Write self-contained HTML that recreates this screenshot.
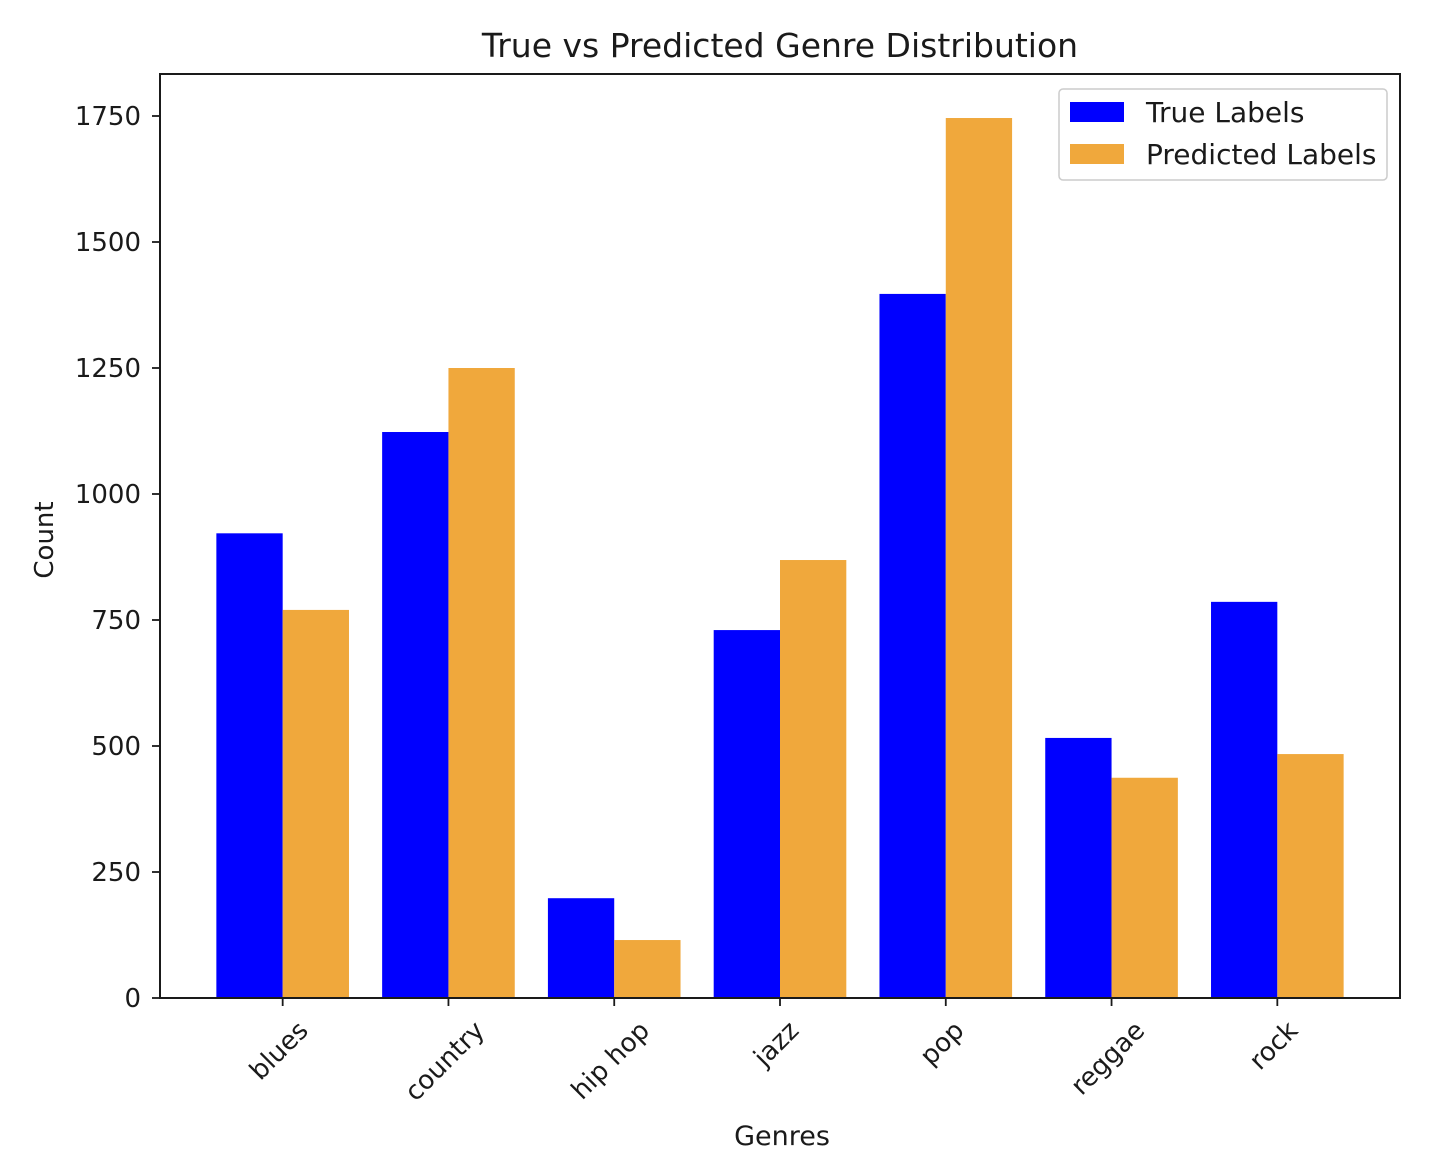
<!DOCTYPE html>
<html><head><meta charset="utf-8"><style>
body{margin:0;background:#fff}
svg{display:block;font-family:"DejaVu Sans","Liberation Sans",sans-serif}
</style></head><body>
<svg id="chart" width="1450" height="1164" viewBox="0 0 1450 1164">
<rect width="1450" height="1164" fill="#fff"/>
<text x="780" y="57" font-size="33" text-anchor="middle" fill="#1a1a1a">True vs Predicted Genre Distribution</text>
<g id="bars"></g>
<g id="yticks"></g>
<g id="xticks"></g>
<rect x="160" y="74" width="1240" height="924" fill="none" stroke="#1a1a1a" stroke-width="2"/>
<text transform="translate(53,540) rotate(-90)" font-size="26" text-anchor="middle" fill="#1a1a1a">Count</text>
<text x="782" y="1145" font-size="27" text-anchor="middle" fill="#1a1a1a">Genres</text>
<g>
<rect x="1059" y="89" width="328" height="91" rx="4" fill="#fff" stroke="#ccc" stroke-width="1.5"/>
<rect x="1070" y="102" width="54" height="20" fill="#0000ff"/>
<text x="1146" y="122" font-size="28" fill="#1a1a1a">True Labels</text>
<rect x="1070" y="144" width="54" height="20" fill="#f0a83c"/>
<text x="1146" y="164" font-size="28" fill="#1a1a1a">Predicted Labels</text>
</g>
</svg>
<script>
const categories=["blues","country","hip hop","jazz","pop","reggae","rock"];
const trueValues=[922,1123,198,730,1397,516,786];
const predValues=[770,1250,115,869,1746,437,484];
const yTicks=[0,250,500,750,1000,1250,1500,1750];
const NS="http://www.w3.org/2000/svg";
const L=160,R=1400,T=74,B=998;
const xmin=-0.74,xmax=6.74;
const ypx=(B-116)/1750;
const xs=v=>L+(v-xmin)/(xmax-xmin)*(R-L);
const ys=v=>B-v*ypx;
const bars=document.getElementById('bars');
const yt=document.getElementById('yticks');
const xt=document.getElementById('xticks');
function mk(tag,attrs,parent){const e=document.createElementNS(NS,tag);for(const k in attrs)e.setAttribute(k,attrs[k]);parent.appendChild(e);return e;}
categories.forEach((c,i)=>{
  const b1=mk('rect',{x:xs(i-0.4),y:ys(trueValues[i]),width:xs(0.4)-xs(0),height:B-ys(trueValues[i]),fill:'#0000ff'},bars);
  
  
  const b2=mk('rect',{x:xs(i),y:ys(predValues[i]),width:xs(0.4)-xs(0),height:B-ys(predValues[i]),fill:'#f0a83c'},bars);
  
  
  const tk=mk('line',{x1:xs(i),x2:xs(i),y1:B,y2:B+8,stroke:'#1a1a1a','stroke-width':1.8},xt);
  
  
  const t=mk('text',{'font-size':26,'text-anchor':'middle',fill:'#1a1a1a'},xt);
  t.textContent=c;
  
  
  const w=t.getComputedTextLength();
  const h=19;
  const cy=1020+(w+h)*0.7071/2;
  const cx=xs(i)-3;
  t.setAttribute('x',cx);t.setAttribute('y',cy+h/2-2);
  t.setAttribute('transform','rotate(-45,'+cx+','+cy+')');
});
yTicks.forEach(v=>{
  const tk=mk('line',{x1:L-8,x2:L,y1:ys(v),y2:ys(v),stroke:'#1a1a1a','stroke-width':1.8},yt);
  
  
  const t=mk('text',{x:L-19,y:ys(v)+9,'font-size':26,'text-anchor':'end',fill:'#1a1a1a'},yt);
  t.textContent=v;
  
  
});
</script>
</body></html>
